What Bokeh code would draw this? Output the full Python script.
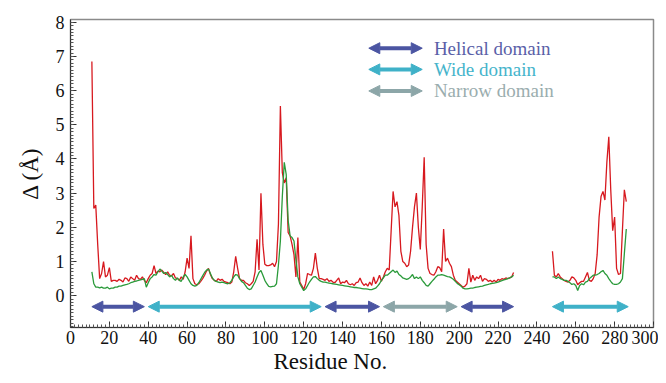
import math
from bokeh.plotting import figure
from bokeh.models import Range1d, SingleIntervalTicker, Arrow, NormalHead, ColumnDataSource, Title
from bokeh.core.properties import value
from bokeh.embed import file_html
from bokeh.resources import INLINE

# ---------------- data ----------------
res_a = list(range(11, 229))
red_a = [
    6.85, 2.55, 2.65, 1.5, 0.5, 0.65, 1.0, 0.55, 0.6, 0.82,
    0.42, 0.45, 0.45, 0.42, 0.48, 0.45, 0.4, 0.52, 0.5, 0.42,
    0.55, 0.5, 0.45, 0.6, 0.5, 0.48, 0.55, 0.45, 0.38, 0.5,
    0.6, 0.65, 0.88, 0.65, 0.72, 0.7, 0.75, 0.68, 0.62, 0.7,
    0.6, 0.58, 0.65, 0.52, 0.5, 0.45, 0.55, 0.48, 0.7, 1.1,
    0.8, 1.75, 0.5, 0.35, 0.32, 0.35, 0.42, 0.5, 0.6, 0.72,
    0.8, 0.62, 0.5, 0.45, 0.42, 0.5, 0.45, 0.48, 0.42, 0.4,
    0.38, 0.35, 0.4, 0.7, 1.15, 0.8, 0.5, 0.45, 0.45, 0.38,
    0.35, 0.3, 0.35, 0.42, 0.7, 1.65, 0.75, 3.0, 1.5, 0.92,
    0.88, 0.88, 0.9, 0.95, 0.85, 1.0, 2.1, 5.55, 3.6, 3.3,
    3.45, 1.85, 1.75, 1.5, 1.2, 0.55, 1.7, 0.4, 0.3, 0.18,
    0.35, 0.65, 0.62, 0.6, 0.8, 1.25, 0.8, 0.5, 0.5, 0.48,
    0.45, 0.5, 0.42, 0.45, 0.4, 0.38, 0.45, 0.52, 0.35, 0.4,
    0.38, 0.45, 0.35, 0.32, 0.35, 0.3, 0.38, 0.4, 0.52, 0.38,
    0.3, 0.35, 0.28, 0.4, 0.3, 0.55, 0.35, 0.45, 0.6, 0.42,
    0.55, 0.7, 0.8, 0.75, 1.9, 3.05, 2.6, 2.75, 2.35, 1.3,
    1.0, 0.95, 0.85, 0.9, 1.3, 2.0, 2.6, 3.0, 2.0, 1.35,
    2.6, 4.05, 1.5, 0.8, 0.65, 0.62, 0.6, 0.7, 0.85, 0.82,
    0.7, 1.95, 1.0, 1.1, 0.95, 0.85, 0.6, 0.45, 0.4, 0.35,
    0.3, 0.25, 0.28, 0.35, 0.8, 0.4, 0.6, 0.45, 0.55, 0.5,
    0.6, 0.42, 0.5, 0.48, 0.42, 0.45, 0.4, 0.45, 0.4, 0.48,
    0.45, 0.5, 0.48, 0.52, 0.5, 0.52, 0.55, 0.68,
]
green_a = [
    0.7, 0.35, 0.25, 0.25, 0.23, 0.25, 0.22, 0.22, 0.25, 0.2,
    0.22, 0.22, 0.25, 0.25, 0.28, 0.28, 0.3, 0.32, 0.33, 0.35,
    0.38, 0.4, 0.42, 0.43, 0.45, 0.46, 0.48, 0.5, 0.25, 0.38,
    0.5, 0.55, 0.62, 0.6, 0.7, 0.78, 0.72, 0.65, 0.68, 0.62,
    0.55, 0.6, 0.5, 0.45, 0.52, 0.45, 0.42, 0.55, 0.62, 0.55,
    0.45, 0.35, 0.3, 0.28, 0.3, 0.38, 0.48, 0.58, 0.68, 0.75,
    0.78, 0.65, 0.52, 0.45, 0.42, 0.4, 0.38, 0.4, 0.38, 0.36,
    0.35, 0.38, 0.45, 0.55, 0.62, 0.6, 0.5, 0.42, 0.38, 0.3,
    0.22, 0.18, 0.2, 0.3, 0.4, 0.55, 0.68, 0.74, 0.6, 0.45,
    0.35, 0.27, 0.26, 0.27, 0.28, 0.35, 0.9, 1.6, 2.9, 3.9,
    3.55, 2.2, 1.75, 1.7, 1.6, 1.05, 0.55, 0.35, 0.25, 0.15,
    0.2, 0.3, 0.4, 0.48, 0.55, 0.56, 0.5, 0.45, 0.42, 0.4,
    0.4, 0.38, 0.37, 0.36, 0.35, 0.34, 0.33, 0.32, 0.31, 0.3,
    0.29, 0.28, 0.27, 0.26, 0.25, 0.24, 0.24, 0.23, 0.22, 0.21,
    0.2, 0.2, 0.19, 0.18, 0.18, 0.2, 0.22, 0.28, 0.35, 0.45,
    0.52, 0.6, 0.6, 0.65, 0.7, 0.75, 0.68, 0.72, 0.62, 0.58,
    0.52, 0.5, 0.48, 0.5, 0.55, 0.62, 0.5, 0.55, 0.5, 0.55,
    0.45, 0.38, 0.3, 0.28, 0.35, 0.42, 0.48, 0.55, 0.6, 0.6,
    0.62, 0.6, 0.58, 0.56, 0.55, 0.52, 0.48, 0.42, 0.36, 0.32,
    0.28, 0.22, 0.2, 0.2, 0.21, 0.22, 0.22, 0.24, 0.25, 0.26,
    0.27, 0.28, 0.3, 0.32, 0.33, 0.35, 0.36, 0.37, 0.38, 0.4,
    0.42, 0.44, 0.46, 0.48, 0.5, 0.52, 0.55, 0.6,
]
res_b = list(range(248, 287))
red_b = [
    1.3, 0.6, 0.55, 0.65, 0.55, 0.5, 0.45, 0.42, 0.4, 0.45,
    0.55, 0.52, 0.45, 0.32, 0.38, 0.42, 0.42, 0.55, 0.68, 0.45,
    0.42, 0.5, 0.65, 1.2, 2.3, 2.9, 3.05, 2.8, 3.9, 4.65,
    3.1, 1.9, 2.3, 0.8, 0.62, 0.65, 1.9, 3.1, 2.75,
]
green_b = [
    0.55, 0.55, 0.5, 0.55, 0.5, 0.48, 0.45, 0.45, 0.42, 0.38,
    0.33, 0.35, 0.3, 0.15, 0.3, 0.35, 0.32, 0.4, 0.42, 0.5,
    0.55, 0.6, 0.6, 0.62, 0.65, 0.7, 0.74, 0.65, 0.6, 0.5,
    0.42, 0.35, 0.33, 0.33, 0.35, 0.4, 0.5, 1.23, 1.95,
]

domain_names = ["Helical domain", "Wide domain", "Narrow domain"]
domain_colors = ["#4b55a2", "#3fb1c8", "#8ca6a8"]
domain_text_colors = ["#5a5fa8", "#45b4cb", "#9aadae"]
segment_start = [11, 40, 131, 161, 201, 248]
segment_end = [38, 129, 159, 199, 228, 287]
segment_kind = [0, 1, 0, 2, 0, 1]
segment_y = -0.32

legend_x0, legend_x1, legend_tx = 153.5, 181, 187
legend_y = [7.24, 6.62, 5.99]

x_title = "Residue No."
y_title = "Δ (Å)"

red_color = "#d7191f"
green_color = "#2a9a3a"
FONT = "Liberation Serif"

# ---------------- figure ----------------
p = figure(width=658, height=375, output_backend="svg", toolbar_location=None,
           x_range=Range1d(0, 300), y_range=Range1d(-0.93, 8.08),
           min_border_left=70, min_border_right=5, min_border_top=19, min_border_bottom=0)
p.background_fill_color = "white"
p.border_fill_color = "white"
p.outline_line_color = "#8a8a8a"
p.outline_line_width = 1.5
p.xgrid.visible = False
p.ygrid.visible = False

nan = float("nan")
xs = res_a + [nan] + res_b
p.line(xs, red_a + [nan] + red_b, line_color=red_color, line_width=1.3)
p.line(xs, green_a + [nan] + green_b, line_color=green_color, line_width=1.3)

# domain arrows
for s, e, k in zip(segment_start, segment_end, segment_kind):
    c = domain_colors[k]
    p.add_layout(Arrow(x_start=s, y_start=segment_y, x_end=e, y_end=segment_y,
                       line_color=c, line_width=4,
                       start=NormalHead(size=11, fill_color=c, line_color=c, line_width=1),
                       end=NormalHead(size=11, fill_color=c, line_color=c, line_width=1)))

# legend
for i, name in enumerate(domain_names):
    c = domain_colors[i]
    p.add_layout(Arrow(x_start=legend_x0, y_start=legend_y[i], x_end=legend_x1, y_end=legend_y[i],
                       line_color=c, line_width=4,
                       start=NormalHead(size=11, fill_color=c, line_color=c, line_width=1),
                       end=NormalHead(size=11, fill_color=c, line_color=c, line_width=1)))
src = ColumnDataSource(dict(x=[legend_tx] * 3, y=legend_y, t=domain_names, c=domain_text_colors))
p.text(x="x", y="y", text="t", text_color="c", source=src, text_font=value(FONT),
       text_font_size="19px", text_baseline="middle", text_align="left")

# axes
p.xaxis.ticker = SingleIntervalTicker(interval=20, num_minor_ticks=10)
p.yaxis.ticker = SingleIntervalTicker(interval=1, num_minor_ticks=10)
for ax in (p.xaxis, p.yaxis):
    ax.major_tick_in = 6
    ax.major_tick_out = 0
    ax.minor_tick_in = 3
    ax.minor_tick_out = 0
    ax.axis_line_color = "#333333"
    ax.major_tick_line_color = "#333333"
    ax.minor_tick_line_color = "#555555"
    ax.major_label_text_font = FONT
    ax.major_label_text_font_size = "18px"
    ax.major_label_text_color = "#111111"
    ax.axis_label_text_font = FONT
    ax.axis_label_text_font_style = "normal"
    ax.axis_label_text_font_size = "23px"
    ax.axis_label_text_color = "#111111"
p.yaxis.axis_label = y_title
p.xaxis.major_label_standoff = 3
p.yaxis.major_label_standoff = 6
p.yaxis.axis_label_standoff = 10

# x title below, placed left of centre as in the reference
p.add_layout(Title(text=x_title, align="left", offset=203, standoff=2,
                   text_font=FONT, text_font_size="23px", text_font_style="normal",
                   text_color="#111111", vertical_align="middle"), "below")

open("out.html", "w").write(file_html(p, INLINE))
